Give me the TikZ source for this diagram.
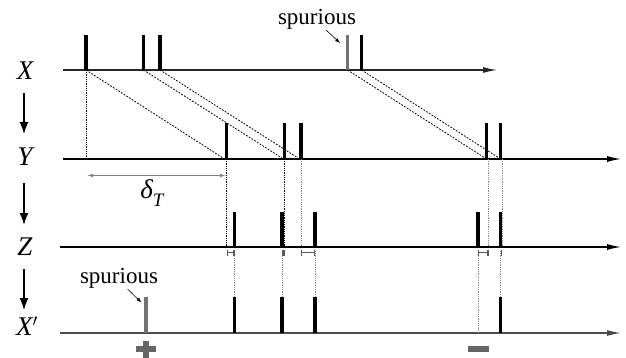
\documentclass[tikz,border=0pt]{standalone}
\usepackage{fontspec}
\setmainfont{Liberation Serif}
\usetikzlibrary{arrows.meta}
\begin{document}
\begin{tikzpicture}[x=1pt,y=-1pt,
  axisline/.style={line width=1.2pt,-{Latex[length=14pt,width=6pt]}},
  downarrow/.style={line width=1.5pt,-{Latex[length=12pt,width=9pt]}},
  spike/.style={line width=3.3pt},
  spurspike/.style={line width=3.3pt,draw=black!55},
  delay/.style={line width=0.8pt,dash pattern=on 1.8pt off 1.4pt},
  guide/.style={line width=0.6pt,draw=black!45,dash pattern=on 0.9pt off 0.9pt},
  guideblack/.style={line width=0.6pt,draw=black,dash pattern=on 0.9pt off 0.9pt},
  interval/.style={line width=1.1pt,draw=black!65,{|[width=6pt]}-{|[width=6pt]}},
  rowlabel/.style={font=\fontsize{27}{27}\selectfont\itshape},
  note/.style={font=\fontsize{23}{23}\selectfont},
  notearrow/.style={line width=0.6pt,-{Latex[length=5pt,width=3.5pt]}},
]
\useasboundingbox (0,0) rectangle (626,358);

% row labels
\node[rowlabel] (lX) at (25,71) {X};
\node[rowlabel] (lY) at (25,157) {Y};
\node[rowlabel] (lZ) at (25,247) {Z};
\node[rowlabel] (lXp) at (27,326) {X$'$};
\coordinate (a1s) at (24,93); \coordinate (a1e) at (24,134);
\coordinate (a2s) at (24,183); \coordinate (a2e) at (24,225);
\coordinate (a3s) at (24,269); \coordinate (a3e) at (24,310);
\draw[downarrow] (a1s) -- (a1e);
\draw[downarrow] (a2s) -- (a2e);
\draw[downarrow] (a3s) -- (a3e);

% axes
\coordinate (Xs) at (63,70);  \coordinate (Xe) at (497,70);
\coordinate (Ys) at (63,159); \coordinate (Ye) at (621,159);
\coordinate (Zs) at (60,247); \coordinate (Ze) at (621,247);
\coordinate (Ps) at (60,333); \coordinate (Pe) at (621,333);
\draw[axisline,draw=black!85] (Xs) -- (Xe);
\draw[axisline] (Ys) -- (Ye);
\draw[axisline] (Zs) -- (Ze);
\draw[axisline,draw=black!70,fill=black] (Ps) -- (Pe);

% X spikes
\foreach \n/\x in {x1/86,x2/143.5,x3/160,x5/361.5}{
  \coordinate (\n) at (\x,70);
  \draw[spike] (\n) -- ++(0,-35);
}
\coordinate (x4) at (347.5,70);
\draw[spurspike] (x4) -- ++(0,-35);

% Y spikes
\foreach \n/\x in {y1/226.5,y2/284.5,y3/301,y4/486.5,y5/500.5}{
  \coordinate (\n) at (\x,159);
  \draw[spike] (\n) -- ++(0,-36);
}
% Z spikes
\foreach \n/\x in {z1/234.5,z2/282,z3/315,z4/478,z5/500.5}{
  \coordinate (\n) at (\x,247);
  \draw[spike] (\n) -- ++(0,-35.5);
}
% X' spikes
\foreach \n/\x in {p1/234.5,p2/282,p3/315,p5/500.5}{
  \coordinate (\n) at (\x,333);
  \draw[spike] (\n) -- ++(0,-36);
}
\coordinate (p0) at (146,333);
\draw[spurspike] (p0) -- ++(0,-36);

% delay lines X -> Y
\coordinate (d1) at (223,158);
\coordinate (d2) at (282,158);
\coordinate (d3) at (298,158);
\coordinate (d4) at (485,158);
\coordinate (d5) at (499,158);
\draw[delay] (x1) -- (d1);
\draw[delay] (x2) -- (d2);
\draw[delay] (x3) -- (d3);
\draw[delay] (x4) -- (d4);
\draw[delay] (x5) -- (d5);

% vertical guides
\coordinate (g0) at (86,159);
\draw[guideblack] (x1) -- (g0);
\coordinate (gy1) at (226.5,247);
\coordinate (gy2) at (284.5,247);
\coordinate (gy3) at (301,247);
\coordinate (gy4t) at (488.5,159); \coordinate (gy4) at (488.5,247);
\coordinate (gy5t) at (502,159);   \coordinate (gy5) at (502,247);
\draw[guideblack] (y1) -- (gy1);
\draw[guideblack] (y2) -- (gy2);
\draw[guide] (y3) -- (gy3);
\draw[guide] (gy4t) -- (gy4);
\draw[guide] (gy5t) -- (gy5);

\foreach \n/\x/\e in {q1/234.5/297,q2/282/297,q3/315/297,q4/478/333,q5/500.5/297}{
  \coordinate (\n s) at (\x,251);
  \coordinate (\n e) at (\x,\e);
  \draw[guide] (\n s) -- (\n e);
}

% intervals
\coordinate (i1a) at (226.5,252.5); \coordinate (i1b) at (234.5,252.5);
\coordinate (i2a) at (282,252.5);   \coordinate (i2b) at (284.5,252.5);
\coordinate (i3a) at (301,252.5);   \coordinate (i3b) at (315,252.5);
\coordinate (i4a) at (478,252.5);   \coordinate (i4b) at (488.5,252.5);
\coordinate (i5a) at (500.5,252.5); \coordinate (i5b) at (502,252.5);
\draw[interval] (i1a) -- (i1b);
\draw[interval] (i2a) -- (i2b);
\draw[interval] (i3a) -- (i3b);
\draw[interval] (i4a) -- (i4b);
\draw[interval] (i5a) -- (i5b);

% delta_T
\coordinate (dTa) at (87,175.5);
\coordinate (dTb) at (226,175.5);
\draw[line width=0.9pt,draw=black!50,{Latex[length=6pt,width=3.5pt]}-{Latex[length=6pt,width=3.5pt]}] (dTa) -- (dTb);
\node[font=\fontsize{27}{27}\selectfont\itshape] (dT) at (152,193) {δ\raisebox{-0.3em}{\fontsize{19}{19}\selectfont T}};

% spurious labels
\node[note,anchor=base] (s1) at (317,25) {spurious};
\coordinate (s1s) at (326,30);
\coordinate (s1e) at (340,43);
\draw[notearrow] (s1s) -- (s1e);
\node[note,anchor=base] (s2) at (119,283.5) {spurious};
\coordinate (s2s) at (127.5,289);
\coordinate (s2e) at (141.5,302.5);
\draw[notearrow] (s2s) -- (s2e);

% plus / minus
\node[fill=black!60,minimum width=20pt,minimum height=6pt,inner sep=0pt] (plush) at (146,349) {};
\node[fill=black!60,minimum width=6pt,minimum height=17pt,inner sep=0pt] (plusv) at (146,349) {};
\node[fill=black!60,minimum width=21pt,minimum height=6.5pt,inner sep=0pt] (minus) at (478,349) {};
\end{tikzpicture}
\end{document}
